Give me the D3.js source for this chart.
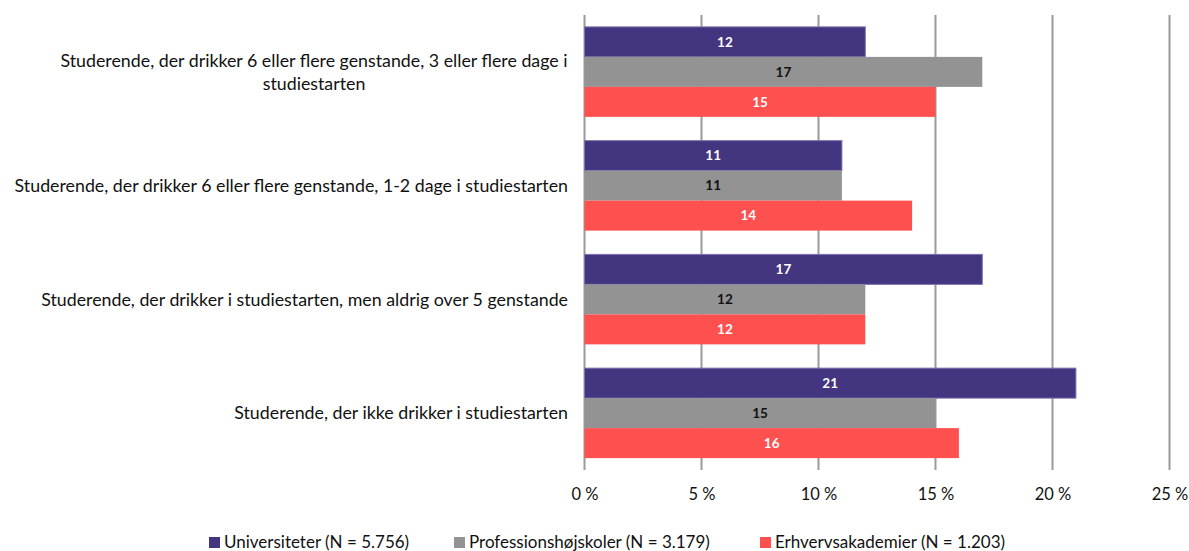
<!DOCTYPE html>
<html>
<head>
<meta charset="utf-8">
<script src="https://cdn.jsdelivr.net/npm/d3@7"></script>
<style>
  body { margin: 0; background: #fff; }
  svg text { font-family: Lato, "Liberation Sans", sans-serif; }
</style>
</head>
<body>
<script>
// Data
var categories = [
    ['Studerende, der drikker 6 eller flere genstande, 3 eller flere dage i', 'studiestarten'],
    ['Studerende, der drikker 6 eller flere genstande, 1-2 dage i studiestarten'],
    ['Studerende, der drikker i studiestarten, men aldrig over 5 genstande '],
    ['Studerende, der ikke drikker i studiestarten']
];
var seriesNames = ['Universiteter (N = 5.756)', 'Professionshøjskoler (N = 3.179)', 'Erhvervsakademier (N = 1.203)'];
var universiteter = [12, 11, 17, 21];
var professionshojskoler = [17, 11, 12, 15];
var erhvervsakademier = [15, 14, 12, 16];
var xTicks = [0, 5, 10, 15, 20, 25];

// Config
var width = 1189;
var height = 551;
var plotLeft = 584.5;
var plotRight = 1169.5;
var plotTop = 15;
var plotBottom = 470;
var colors = ['#433580', '#939393', '#FF5050'];
var labelColors = ['#ffffff', '#111111', '#ffffff'];

var series = [universiteter, professionshojskoler, erhvervsakademier];

var svg = d3.select('body')
    .append('svg')
    .attr('width', width)
    .attr('height', height);

var x = d3.scaleLinear().domain([0, 25]).range([plotLeft, plotRight]);
var y0 = d3.scaleBand()
    .domain(d3.range(categories.length))
    .range([plotTop, plotBottom])
    .paddingInner(0.209)
    .paddingOuter(0.1045);
var y1 = d3.scaleBand()
    .domain(d3.range(series.length))
    .range([0, y0.bandwidth()]);

// gridlines
svg.append('g')
    .selectAll('line')
    .data(xTicks)
    .enter()
    .append('line')
    .attr('x1', function(d) { return x(d); })
    .attr('x2', function(d) { return x(d); })
    .attr('y1', plotTop)
    .attr('y2', plotBottom)
    .attr('stroke', '#9a9a9a')
    .attr('stroke-width', 2);

// axis tick labels
var xAxis = d3.axisBottom(x)
    .tickValues(xTicks)
    .tickSize(0)
    .tickPadding(0)
    .tickFormat(function(d) { return d + ' %'; });
var axisG = svg.append('g')
    .attr('transform', 'translate(0,' + 488 + ')')
    .call(xAxis);
axisG.select('.domain').remove();
axisG.selectAll('text')
    .attr('font-size', 16.5)
    .attr('fill', '#111')
    .style('font-family', 'Lato, sans-serif');

// bars
var groups = svg.append('g')
    .selectAll('g')
    .data(categories)
    .enter()
    .append('g')
    .attr('transform', function(d, i) { return 'translate(0,' + y0(i) + ')'; });

groups.each(function(cat, ci) {
    var g = d3.select(this);
    series.forEach(function(values, si) {
        var v = values[ci];
        g.append('rect')
            .attr('x', x(0))
            .attr('y', y1(si))
            .attr('width', x(v) - x(0))
            .attr('height', y1.bandwidth())
            .attr('fill', colors[si])
            .attr('stroke', si === 0 ? '#7d72ad' : 'none')
            .attr('stroke-width', si === 0 ? 1 : 0);
        g.append('text')
            .attr('x', (x(0) + x(v)) / 2)
            .attr('y', y1(si) + y1.bandwidth() / 2)
            .attr('dy', '0.35em')
            .attr('text-anchor', 'middle')
            .attr('font-size', 13.5)
            .attr('font-weight', 'bold')
            .attr('fill', labelColors[si])
            .text(v);
    });

    // category label
    var lineH = 23;
    var cy = y0.bandwidth() / 2;
    var t = g.append('text')
        .attr('font-size', 17.8)
        .attr('fill', '#111');
    cat.forEach(function(line, li) {
        var offset = (li - (cat.length - 1) / 2) * lineH;
        var anchorMiddle = cat.length > 1;
        t.append('tspan')
            .attr('x', anchorMiddle ? 314 : 568)
            .attr('text-anchor', anchorMiddle ? 'middle' : 'end')
            .attr('y', cy + offset)
            .attr('dy', '0.35em')
            .text(line);
    });
});

// legend
var legendX = [209, 454, 760];
var legend = svg.append('g')
    .selectAll('g')
    .data(seriesNames)
    .enter()
    .append('g')
    .attr('transform', function(d, i) { return 'translate(' + legendX[i] + ',' + 542 + ')'; });
legend.append('rect')
    .attr('x', 0)
    .attr('y', -5)
    .attr('width', 11)
    .attr('height', 11)
    .attr('fill', function(d, i) { return colors[i]; });
legend.append('text')
    .attr('x', 15)
    .attr('y', 0)
    .attr('dy', '0.35em')
    .attr('font-size', 17)
    .attr('fill', '#111')
    .text(function(d) { return d; });
</script>
</body>
</html>
